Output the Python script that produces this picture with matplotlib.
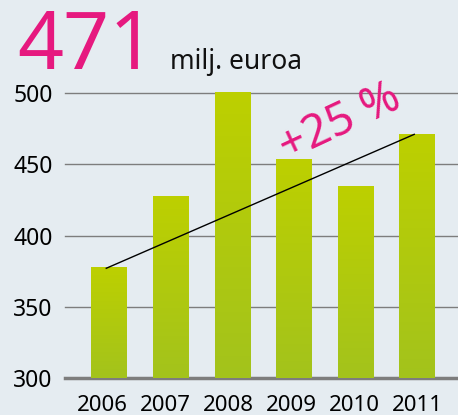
import matplotlib.pyplot as plt
import numpy as np
from matplotlib.colors import LinearSegmentedColormap

plt.rcParams['font.family'] = ['Noto Sans', 'DejaVu Sans']

years = ['2006', '2007', '2008', '2009', '2010', '2011']
revenue = [378, 428, 501, 454, 435, 471]
yticks = [300, 350, 400, 450, 500]

bg = '#e5ecf1'
pink = '#e6197f'

fig = plt.figure(figsize=(4.58, 4.15), dpi=100, facecolor=bg)
ax = fig.add_axes([65 / 458, 37 / 415, 393 / 458, 285 / 415])
ax.set_facecolor(bg)

x = np.arange(len(years))

# gridlines
for t in yticks:
    ax.axhline(t, color='#7d7d7d', lw=1.0 if t > 300 else 2.5, zorder=1, clip_on=False)

# bars with vertical gradient
cmap = LinearSegmentedColormap.from_list('g', ['#a3c31c', '#bdd000'])
grad = np.linspace(0, 1, 256).reshape(-1, 1)
bars = ax.bar(x, [v - 300 for v in revenue], bottom=300, width=0.58, color='none', zorder=2)
for b in bars:
    x0, y0 = b.get_x(), b.get_y()
    im = ax.imshow(grad, cmap=cmap, origin='lower', aspect='auto',
                   extent=[x0, x0 + b.get_width(), y0, y0 + b.get_height()], zorder=2)
    im.set_clip_path(b)

# trend line
ax.plot([x[0] - 0.05, x[-1] - 0.05], [revenue[0] - 1, revenue[-1]], color='black', lw=1.0, zorder=3, clip_on=False)
ax.text(3.74, 479, '+25 %', color=pink, fontsize=33, rotation=25, ha='center', va='center', zorder=4)

ax.set_xlim(-0.72, 5.66)
ax.set_ylim(300, 500)
# labels sit a bit wider apart than the bars in the original
ax.set_xticks(x * 1.025 - 0.12)
ax.set_xticklabels(years, fontsize=16)
ax.set_yticks(yticks)
ax.set_yticklabels([str(t) for t in yticks], fontsize=16.5)
ax.tick_params(axis='x', length=0, pad=12)
ax.tick_params(axis='y', length=0, pad=9)
for s in ax.spines.values():
    s.set_visible(False)

fig.text(17 / 458, 1 - 69 / 415, '471', color=pink, fontsize=58, ha='left', va='baseline')
fig.text(170 / 458, 1 - 69 / 415, 'milj. euroa', color='#111111', fontsize=19, ha='left', va='baseline')

fig.savefig('out.png', dpi=100, facecolor=bg)
